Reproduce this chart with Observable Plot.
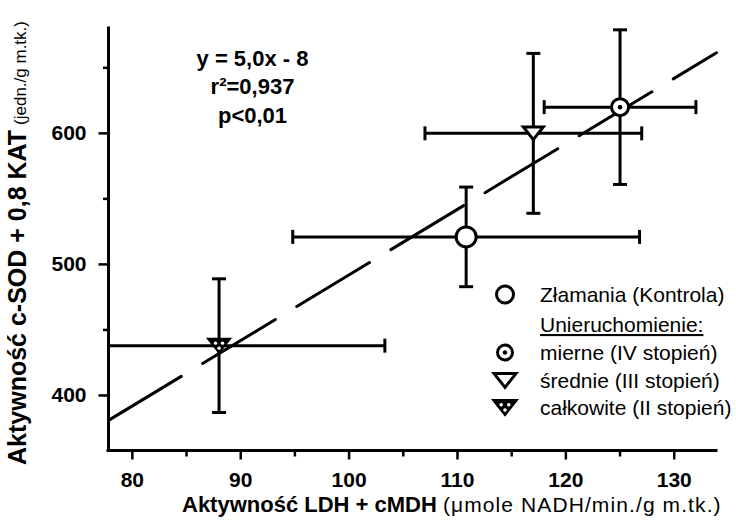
<!DOCTYPE html>
<html><head><meta charset="utf-8">
<script src="https://cdn.jsdelivr.net/npm/d3@7"></script>
<script src="https://cdn.jsdelivr.net/npm/@observablehq/plot@0.6"></script>
<style>
body{margin:0;background:#fff;}
#chart svg{display:block;}
</style></head><body><div id="chart"></div>
<script>
// ---- data ----
const groups = ["Złamania (Kontrola)", "mierne (IV stopień)", "średnie (III stopień)", "całkowite (II stopień)"];
const groupSymbols = ["circle", "bullseye", "triangle", "triangleDots"];
const xMean = [110.8, 125.0, 117.0, 88.0];
const xErr  = [16.0, 7.0, 10.0, 15.3];
const yMean = [521, 620, 600, 438];
const yErr  = [38, 59, 61, 51];
const xTicks = [80, 90, 100, 110, 120, 130];
const xMinorTicks = [85, 95, 105, 115, 125];
const yTicks = [400, 500, 600];
const yMinorTicks = [450, 550, 650];
const xDomain = [77.8, 133.9];
const yDomain = [358, 680];
const fitSlope = 5.0, fitIntercept = -8;
const equationLines = ["y = 5,0x - 8", "r²=0,937", "p<0,01"];
const xLabelMain = "Aktywność LDH + cMDH";
const xLabelUnit = "(μmole NADH/min./g m.tk.)";
const yLabelMain = "Aktywność c-SOD + 0,8 KAT";
const yLabelUnit = "(jedn./g m.tk.)";
const legendHeading = "Unieruchomienie:";

const FONT = "'Liberation Sans', Arial, Helvetica, sans-serif";

const data = groups.map((g, i) => ({
  g, sym: groupSymbols[i], x: xMean[i], y: yMean[i],
  xlo: xMean[i] - xErr[i], xhi: xMean[i] + xErr[i],
  ylo: yMean[i] - yErr[i], yhi: yMean[i] + yErr[i]
}));
const clampX = v => Math.max(xDomain[0], Math.min(xDomain[1], v));

// ---- custom symbols ----
const rOf = size => Math.sqrt(size / Math.PI);
const hCap = {draw(c, s){const r = rOf(s); c.moveTo(-r, 0); c.lineTo(r, 0);}};
const vCap = {draw(c, s){const r = rOf(s); c.moveTo(0, -r); c.lineTo(0, r);}};
const tickDown = {draw(c, s){const r = rOf(s); c.moveTo(0, 0); c.lineTo(0, r);}};
const tickLeft = {draw(c, s){const r = rOf(s); c.moveTo(0, 0); c.lineTo(-r, 0);}};
const downTri = {draw(c, s){const k = rOf(s) / 10; c.moveTo(-9.5*k, -6*k); c.lineTo(9.5*k, -6*k); c.lineTo(0, 6*k); c.closePath();}};

const bySym = s => data.filter(d => d.sym === s);

const plot = Plot.plot({
  width: 736, height: 520,
  marginLeft: 108, marginRight: 20, marginTop: 28, marginBottom: 70,
  x: {domain: xDomain, axis: null},
  y: {domain: yDomain, axis: null},
  style: {fontFamily: FONT, background: "white", overflow: "visible", color: "black"},
  marks: [
    // regression line
    Plot.line(xDomain, {x: d => d, y: d => fitSlope * d + fitIntercept, stroke: "black", strokeWidth: 3, strokeDasharray: "85,25"}),
    // error bars
    Plot.ruleY(data, {y: "y", x1: d => clampX(d.xlo), x2: d => clampX(d.xhi), stroke: "black", strokeWidth: 3}),
    Plot.ruleX(data, {x: "x", y1: "ylo", y2: "yhi", stroke: "black", strokeWidth: 3}),
    Plot.dot(data.filter(d => d.xlo >= xDomain[0]), {x: "xlo", y: "y", symbol: vCap, r: 7, stroke: "black", fill: "none", strokeWidth: 3}),
    Plot.dot(data.filter(d => d.xhi <= xDomain[1]), {x: "xhi", y: "y", symbol: vCap, r: 7, stroke: "black", fill: "none", strokeWidth: 3}),
    Plot.dot(data, {x: "x", y: "ylo", symbol: hCap, r: 7, stroke: "black", fill: "none", strokeWidth: 3}),
    Plot.dot(data, {x: "x", y: "yhi", symbol: hCap, r: 7, stroke: "black", fill: "none", strokeWidth: 3}),
    // markers
    Plot.dot(bySym("circle"), {x: "x", y: "y", r: 10, fill: "white", stroke: "black", strokeWidth: 3}),
    Plot.dot(bySym("bullseye"), {x: "x", y: "y", r: 8.5, fill: "white", stroke: "black", strokeWidth: 3}),
    Plot.dot(bySym("bullseye"), {x: "x", y: "y", r: 2.3, fill: "black"}),
    Plot.dot(bySym("triangle"), {x: "x", y: "y", symbol: downTri, r: 10.5, fill: "white", stroke: "black", strokeWidth: 3, strokeLinejoin: "miter"}),
    Plot.dot(bySym("triangleDots"), {x: "x", y: "y", symbol: downTri, r: 10.5, fill: "black", stroke: "black", strokeWidth: 3}),
    Plot.dot(bySym("triangleDots"), {x: "x", y: "y", r: 1.7, fill: "white", dx: -3.5, dy: -2.5}),
    Plot.dot(bySym("triangleDots"), {x: "x", y: "y", r: 1.7, fill: "white", dx: 3.5, dy: -2.5}),
    Plot.dot(bySym("triangleDots"), {x: "x", y: "y", r: 1.7, fill: "white", dx: 0, dy: 2.5}),
    // axes
    Plot.ruleY([yDomain[0]], {x1: xDomain[0], x2: xDomain[1], stroke: "black", strokeWidth: 3, strokeLinecap: "square"}),
    Plot.ruleX([xDomain[0]], {y1: yDomain[0], y2: yDomain[1], stroke: "black", strokeWidth: 3, strokeLinecap: "square"}),
    Plot.dot(xTicks, {x: d => d, y: yDomain[0], symbol: tickDown, r: 9, stroke: "black", fill: "none", strokeWidth: 2.5}),
    Plot.dot(xMinorTicks, {x: d => d, y: yDomain[0], symbol: tickDown, r: 6, stroke: "black", fill: "none", strokeWidth: 2.5}),
    Plot.dot(yTicks, {x: xDomain[0], y: d => d, symbol: tickLeft, r: 10, stroke: "black", fill: "none", strokeWidth: 2.5}),
    Plot.dot(yMinorTicks, {x: xDomain[0], y: d => d, symbol: tickLeft, r: 5.5, stroke: "black", fill: "none", strokeWidth: 2.5}),
    Plot.text(xTicks, {x: d => d, y: yDomain[0], text: d => String(d), dy: 30, fontSize: 21, fontWeight: "bold", fill: "black"}),
    Plot.text(yTicks, {x: xDomain[0], y: d => d, text: d => String(d), dx: -22, textAnchor: "end", fontSize: 21, fontWeight: "bold", fill: "black"}),
    // equation
    Plot.text([equationLines.join("\n")], {frameAnchor: "top-left", dx: 144, dy: 17, lineAnchor: "top", lineHeight: 1.3, textAnchor: "middle", fontSize: 22, fontWeight: "bold", fill: "black"})
  ]
});

const svg = d3.select(plot);
// x label
const xl = svg.append("text").attr("x", 182).attr("y", 512).attr("text-anchor", "start").attr("font-family", FONT).attr("fill", "black");
xl.append("tspan").attr("font-weight", "bold").attr("font-size", 22).text(xLabelMain);
xl.append("tspan").attr("font-size", 21).attr("dx", 6).attr("letter-spacing", 1.1).text(xLabelUnit);
// y label
const yl = svg.append("text").attr("transform", "translate(26,465) rotate(-90)").attr("text-anchor", "start").attr("font-family", FONT).attr("fill", "black");
yl.append("tspan").attr("font-weight", "bold").attr("font-size", 25).text(yLabelMain);
yl.append("tspan").attr("font-size", 17).attr("dx", 5).text(yLabelUnit);

// legend
const lg = svg.append("g").attr("font-family", FONT).attr("font-size", 21).attr("fill", "black").attr("text-anchor", "start");
const sx = 505, tx = 540;
const rows = [
  {sym: "circle", label: groups[0], base: 302},
  {sym: null, label: legendHeading, base: 332, underline: true},
  {sym: "bullseye", label: groups[1], base: 360},
  {sym: "triangle", label: groups[2], base: 388},
  {sym: "triangleDots", label: groups[3], base: 415}
];
const triPath = (k) => { const p = d3.path(); downTri.draw(p, Math.PI * (10*k) * (10*k)); return p.toString(); };
rows.forEach(r => {
  const t = lg.append("text").attr("x", tx).attr("y", r.base).text(r.label);
  if (r.underline) t.style("text-decoration", "underline");
  const cy = r.base - 7.5;
  const g = lg.append("g").attr("transform", `translate(${sx},${cy})`);
  if (r.sym === "circle") {
    g.append("circle").attr("r", 8.5).attr("fill", "white").attr("stroke", "black").attr("stroke-width", 3);
  } else if (r.sym === "bullseye") {
    g.append("circle").attr("r", 7.5).attr("fill", "white").attr("stroke", "black").attr("stroke-width", 3);
    g.append("circle").attr("r", 2.2).attr("fill", "black");
  } else if (r.sym === "triangle") {
    g.append("path").attr("d", triPath(1.15)).attr("fill", "white").attr("stroke", "black").attr("stroke-width", 3);
  } else if (r.sym === "triangleDots") {
    g.append("path").attr("d", triPath(1.15)).attr("fill", "black").attr("stroke", "black").attr("stroke-width", 3);
    [[-3.8,-2.8],[3.8,-2.8],[0,2.6]].forEach(([dx,dy]) => g.append("circle").attr("cx", dx).attr("cy", dy).attr("r", 1.8).attr("fill", "white"));
  }
});

document.getElementById("chart").appendChild(plot);
</script>
</body></html>
